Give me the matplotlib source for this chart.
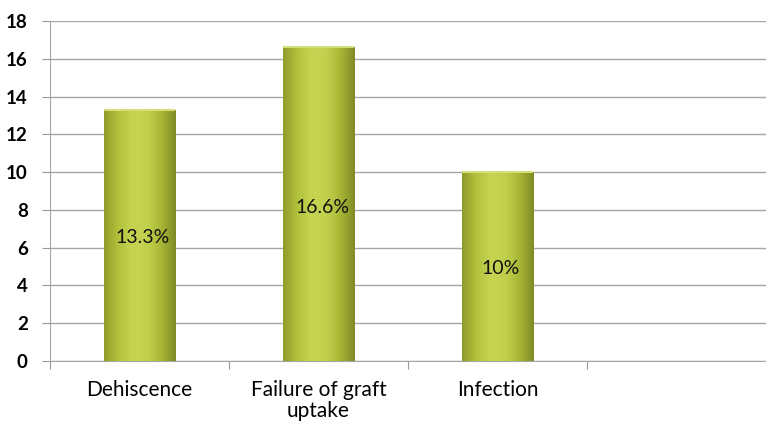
import matplotlib
matplotlib.use("Agg")
import matplotlib.pyplot as plt
import numpy as np
from matplotlib.colors import LinearSegmentedColormap

categories = ["Dehiscence", "Failure of graft\nuptake", "Infection", ""]
values = [13.3, 16.6, 10.0]
labels = ["13.3%", "16.6%", "10%"]
yticks = [0, 2, 4, 6, 8, 10, 12, 14, 16, 18]

plt.rcParams['font.family'] = ['Lato', 'DejaVu Sans']

fig = plt.figure(figsize=(7.66, 4.21), dpi=100)
ax = fig.add_axes([50/766, 60/421, 716/766, 340/421])

n = len(categories)
x = np.arange(n)
ax.set_xlim(-0.5, n - 0.5)
ax.set_ylim(0, 18)

cmap = LinearSegmentedColormap.from_list(
    "bar", ["#8f9b2a", "#b3c23c", "#c6d452", "#c2d14d", "#a8b635", "#7f8a25"])
grad = np.linspace(0, 1, 256).reshape(1, -1)

bars = ax.bar(x[:len(values)], values, width=0.4, color="#b5c43e",
              edgecolor="none", zorder=3)
for b in bars:
    x0, y0, w, h = b.get_x(), b.get_y(), b.get_width(), b.get_height()
    im = ax.imshow(grad, cmap=cmap, aspect="auto",
                   extent=[x0, x0 + w, y0, y0 + h], zorder=4, interpolation="bicubic")
    im.set_clip_path(b)
    ax.plot([x0, x0 + w], [y0 + h, y0 + h], color="#d4df7a", lw=1.5, zorder=5,
            solid_capstyle="butt")

for xi, v, lab in zip(x, values, labels):
    ax.text(xi + 0.02, v * 0.49, lab, ha="center", va="center", fontsize=14,
            color="#111111", zorder=6)

ax.set_yticks(yticks)
ax.set_yticklabels([str(t) for t in yticks], fontsize=13.5, fontweight="bold")
ax.set_xticks(np.arange(-0.5, n, 1.0), minor=False)
ax.set_xticklabels([])
ax.set_xticks(x, minor=True)
ax.set_xticklabels(categories, minor=True, fontsize=15, linespacing=1.02)
ax.tick_params(axis="x", which="minor", length=0, pad=14)
ax.tick_params(axis="x", which="major", length=6, color="#999999", direction="out")
ax.tick_params(axis="y", length=6, color="#999999", direction="out", pad=10)

ax.grid(axis="y", color="#a6a6a6", lw=1, zorder=0)
for s in ["top", "right"]:
    ax.spines[s].set_visible(False)
ax.spines["left"].set_color("#a6a6a6")
ax.spines["bottom"].set_color("#a6a6a6")

fig.savefig("out.png", dpi=100)
